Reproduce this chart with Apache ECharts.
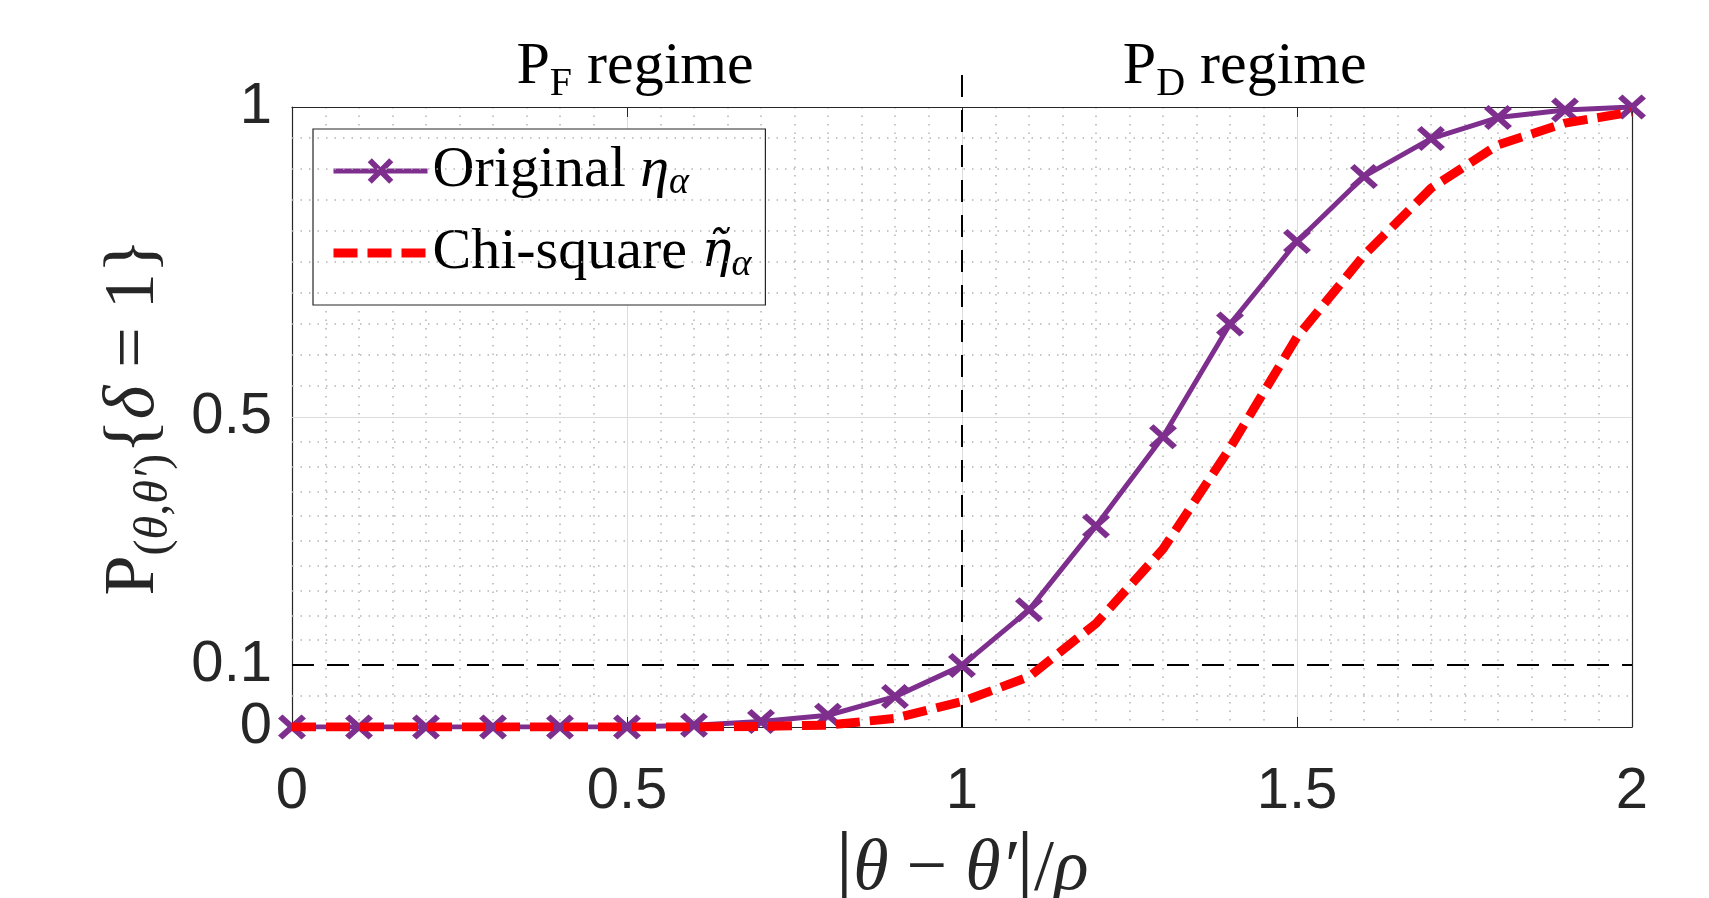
<!DOCTYPE html>
<html><head><meta charset="utf-8">
<script src="https://cdn.jsdelivr.net/npm/echarts@6/dist/echarts.min.js"></script>
<style>html,body{margin:0;padding:0;background:#fff}#c{width:1709px;height:898px}</style>
</head><body><div id="c"></div>
<script>
// ---- data ----
const xValues = [0,0.1,0.2,0.3,0.4,0.5,0.6,0.7,0.8,0.9,1.0,1.1,1.2,1.3,1.4,1.5,1.6,1.7,1.8,1.9,2.0];
const originalEta = [0,0,0,0,0,0,0.003,0.009,0.019,0.049,0.099,0.189,0.324,0.468,0.650,0.783,0.888,0.949,0.983,0.995,1.0];
const chiSquareEta = [0,0,0,0,0,0,0,0.001,0.003,0.014,0.041,0.081,0.167,0.287,0.450,0.629,0.761,0.869,0.939,0.974,0.992];
const xTicks = [0,0.5,1,1.5,2];
const yTicks = [0,0.1,0.5,1];
const yMinorTicks = [0.05,0.14,0.18,0.22,0.26,0.30,0.34,0.38,0.42,0.46,0.55,0.60,0.65,0.70,0.75,0.80,0.85,0.90,0.95];
const regimeBoundary = 1;
const falseAlarmLevel = 0.1;
const seriesNames = ['Original', 'Chi-square'];
const regimeNames = ['F', 'D'];

const AX = '#262626';
const SERIF = 'Liberation Serif';
const SANS = 'Liberation Sans';
const PURPLE = '#7E2F8E';
const RED = '#FF0000';
const xMark = 'path://M0,16L16,0L50,34L84,0L100,16L66,50L100,84L84,100L50,66L16,100L0,84L34,50Z';

const chart = echarts.init(document.getElementById('c'), null, {renderer: 'canvas'});

const lineAx = {show: true, onZero: false, lineStyle: {color: AX, width: 1.2}};
const tick = extra => Object.assign({show: true, inside: true, length: 10, lineStyle: {color: AX, width: 1}}, extra || {});

const option = {
  animation: false,
  backgroundColor: '#fff',
  grid: {left: 292, right: 77, top: 107, bottom: 171, containLabel: false, outerBoundsMode: 'none'},
  xAxis: [{
    type: 'value', min: 0, max: 2, interval: 0.5, position: 'bottom',
    axisLine: lineAx,
    axisTick: tick(),
    axisLabel: {fontSize: 58, fontFamily: SANS, color: AX, margin: 36},
    splitLine: {show: true, showMinLine: false, showMaxLine: false, lineStyle: {color: '#dcdcdc', width: 1}},
    minorTick: {show: false, splitNumber: 10},
    minorSplitLine: {show: true, lineStyle: {color: '#b4b4b4', width: 1.5, type: [1.5, 7]}},
    name: '{b||}{i|θ} − {i|θ′}{b||}/{i|ρ}',
    nameLocation: 'middle', nameGap: 90,
    nameTextStyle: {fontFamily: SERIF, fontSize: 72, color: AX,
      rich: {i: {fontFamily: SERIF, fontStyle: 'italic', fontSize: 72, color: AX},
             b: {fontFamily: SERIF, fontSize: 88, color: AX}}}
  }, {
    type: 'value', min: 0, max: 2, interval: 0.5, position: 'top',
    axisLine: lineAx,
    axisTick: tick(),
    axisLabel: {show: false}, splitLine: {show: false}
  }],
  yAxis: [{
    type: 'value', min: 0, max: 1, interval: 0.1, position: 'left',
    axisLine: lineAx,
    axisTick: tick({customValues: yTicks}),
    axisLabel: {customValues: yTicks, fontSize: 58, fontFamily: SANS, color: AX, margin: 20},
    splitLine: {show: false},
    name: '{p|P}{s|(}{si|θ}{s|,}{si|θ′}{s|)}{{i|δ} = 1}',
    nameLocation: 'middle', nameRotate: 90, nameGap: 114,
    nameTextStyle: {fontFamily: SERIF, fontSize: 72, color: AX,
      rich: {p: {fontFamily: SERIF, fontSize: 72, color: AX, lineHeight: 88, verticalAlign: 'middle'},
             i: {fontFamily: SERIF, fontStyle: 'italic', fontSize: 72, color: AX},
             s: {fontFamily: SERIF, fontSize: 48, color: AX, lineHeight: 48, verticalAlign: 'bottom'},
             si: {fontFamily: SERIF, fontStyle: 'italic', fontSize: 48, color: AX, lineHeight: 48, verticalAlign: 'bottom'}}}
  }, {
    type: 'value', min: 0, max: 1, interval: 0.1, position: 'right',
    axisLine: lineAx,
    axisTick: tick({customValues: yTicks}),
    axisLabel: {show: false}, splitLine: {show: false}
  }],
  legend: {
    data: seriesNames, orient: 'vertical', left: 313, top: 129,
    padding: [13, 14, 21, 16], itemGap: 22, itemWidth: 94, itemHeight: 32,
    borderColor: AX, borderWidth: 1.2, backgroundColor: '#fff', borderRadius: 0,
    lineStyle: {width: 'inherit'},
    formatter: function (name) {
      return name === seriesNames[0]
        ? '{t|Original }{i|η}{s|α}'
        : '{t|Chi-square }{e|η̃}{s|α}';
    },
    textStyle: {fontFamily: SERIF, fontSize: 58, color: '#000',
      rich: {t: {fontFamily: SERIF, fontSize: 58, color: '#000', lineHeight: 62, verticalAlign: 'middle'},
             i: {fontFamily: SERIF, fontStyle: 'italic', fontSize: 58, color: '#000', lineHeight: 62, verticalAlign: 'middle'},
             e: {fontFamily: 'DejaVu Serif', fontStyle: 'italic', fontSize: 50, color: '#000', lineHeight: 62, verticalAlign: 'middle'},
             s: {fontFamily: SERIF, fontStyle: 'italic', fontSize: 38, color: '#000', lineHeight: 42, verticalAlign: 'bottom'}}}
  },
  series: [
    {
      type: 'line', name: '_minorGrid', data: [], silent: true, z: 1,
      markLine: {silent: true, symbol: 'none', label: {show: false}, animation: false,
        lineStyle: {color: '#b4b4b4', width: 1.5, type: [1.5, 7]},
        data: yMinorTicks.map(v => ({yAxis: v}))}
    },
    {
      type: 'line', name: '_majorGrid', data: [], silent: true, z: 1,
      markLine: {silent: true, symbol: 'none', label: {show: false}, animation: false,
        lineStyle: {color: '#dcdcdc', width: 1, type: 'solid'},
        data: yTicks.filter(v => v > 0 && v < 1 && v !== falseAlarmLevel).map(v => ({yAxis: v}))}
    },
    {
      type: 'line', name: '_threshold', data: [], silent: true, z: 2,
      markLine: {silent: true, symbol: 'none', label: {show: false}, animation: false,
        lineStyle: {color: '#000', width: 2, type: [22, 13]},
        data: [{yAxis: falseAlarmLevel}]}
    },
    {
      type: 'line', name: seriesNames[0], z: 9,
      data: xValues.map((x, i) => [x, originalEta[i]]),
      symbol: xMark, symbolSize: [28, 25], showSymbol: true,
      lineStyle: {color: PURPLE, width: 5}, itemStyle: {color: PURPLE}
    },
    {
      type: 'line', name: seriesNames[1], z: 10,
      data: xValues.map((x, i) => [x, chiSquareEta[i]]),
      symbol: 'circle', showSymbol: false,
      lineStyle: {color: RED, width: 9, type: [24, 10]}, itemStyle: {color: RED, opacity: 0}
    }
  ]
};
chart.setOption(option);

// annotations placed through the axis scales
const toPx = p => chart.convertToPixel({xAxisIndex: 0, yAxisIndex: 0}, p);
const divBottom = toPx([regimeBoundary, 0]);
const divTop = toPx([regimeBoundary, 1.068]);
const labF = toPx([0.335, 1.064]);
const labD = toPx([1.24, 1.064]);
const regimeRich = {
  p: {fill: '#000', fontFamily: SERIF, fontSize: 60, lineHeight: 74, verticalAlign: 'middle'},
  s: {fill: '#000', fontFamily: SERIF, fontSize: 40, lineHeight: 40, verticalAlign: 'bottom'}
};
chart.setOption({
  graphic: [
    {type: 'line', z: 3, silent: true,
     shape: {x1: divBottom[0], y1: divBottom[1], x2: divTop[0], y2: divTop[1]},
     style: {stroke: '#000', lineWidth: 2, lineDash: [22, 13]}},
    {type: 'text', z: 3, x: labF[0], y: labF[1],
     style: {text: '{p|P}{s|' + regimeNames[0] + '}{p| regime}', rich: regimeRich, align: 'left', verticalAlign: 'middle'}},
    {type: 'text', z: 3, x: labD[0], y: labD[1],
     style: {text: '{p|P}{s|' + regimeNames[1] + '}{p| regime}', rich: regimeRich, align: 'left', verticalAlign: 'middle'}}
  ]
});
</script>
</body></html>
